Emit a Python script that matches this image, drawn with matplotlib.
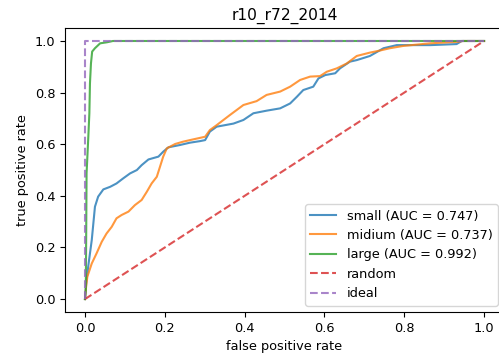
import matplotlib
matplotlib.use('Agg')
import matplotlib.pyplot as plt

plt.rcParams['font.size'] = 9.3

# ROC points
small_fpr = [0.0, 0.003, 0.008, 0.017, 0.025, 0.033, 0.046, 0.063, 0.079, 0.096, 0.113,
             0.130, 0.142, 0.159, 0.184, 0.196, 0.209, 0.238, 0.263, 0.288, 0.301, 0.313,
             0.330, 0.372, 0.397, 0.422, 0.455, 0.489, 0.514, 0.531, 0.547, 0.572, 0.585,
             0.602, 0.627, 0.639, 0.664, 0.681, 0.714, 0.748, 0.781, 0.823, 0.865, 0.931,
             0.944, 1.0]
small_tpr = [0.0, 0.06, 0.125, 0.229, 0.358, 0.397, 0.425, 0.435, 0.448, 0.468, 0.487,
             0.500, 0.519, 0.541, 0.552, 0.571, 0.588, 0.597, 0.606, 0.612, 0.616, 0.649,
             0.668, 0.680, 0.694, 0.720, 0.730, 0.739, 0.758, 0.784, 0.810, 0.823, 0.855,
             0.868, 0.875, 0.894, 0.920, 0.926, 0.942, 0.972, 0.984, 0.984, 0.984, 0.988,
             1.0, 1.0]

midium_fpr = [0.0, 0.003, 0.006, 0.017, 0.029, 0.042, 0.054, 0.067, 0.079, 0.092, 0.109,
              0.125, 0.142, 0.155, 0.167, 0.180, 0.188, 0.196, 0.205, 0.226, 0.246, 0.263,
              0.301, 0.313, 0.330, 0.363, 0.397, 0.430, 0.455, 0.489, 0.514, 0.539, 0.564,
              0.589, 0.606, 0.631, 0.656, 0.681, 0.714, 0.739, 0.764, 0.798, 0.865, 0.936,
              0.947, 1.0]
midium_tpr = [0.0, 0.05, 0.087, 0.138, 0.177, 0.222, 0.254, 0.280, 0.313, 0.326, 0.339,
              0.364, 0.384, 0.416, 0.448, 0.474, 0.513, 0.552, 0.584, 0.601, 0.610, 0.616,
              0.629, 0.655, 0.674, 0.713, 0.752, 0.767, 0.791, 0.804, 0.823, 0.849, 0.862,
              0.864, 0.881, 0.894, 0.913, 0.942, 0.955, 0.963, 0.972, 0.981, 0.991, 0.997,
              1.0, 1.0]

large_fpr = [0.0, 0.002, 0.003, 0.004, 0.008, 0.011, 0.0125, 0.015, 0.018, 0.025, 0.038,
             0.055, 0.070, 1.0]
large_tpr = [0.0, 0.035, 0.24, 0.487, 0.616, 0.72, 0.836, 0.913, 0.959, 0.972, 0.991,
             0.995, 1.0, 1.0]

labels = ['small (AUC = 0.747)', 'midium (AUC = 0.737)', 'large (AUC = 0.992)']

fig = plt.figure(figsize=(4.99, 3.56), dpi=100)
ax = fig.add_axes([0.1303, 0.1236, 0.8798, 0.7975])

ax.plot(small_fpr, small_tpr, color='C0', alpha=0.8, label=labels[0])
ax.plot(midium_fpr, midium_tpr, color='C1', alpha=0.8, label=labels[1])
ax.plot(large_fpr, large_tpr, color='C2', alpha=0.8, label=labels[2])
ax.plot([0, 1], [0, 1], '--', color='C3', alpha=0.8, label='random')
ax.plot([0, 0, 1], [0, 1, 1], '--', color='C4', alpha=0.8, label='ideal')

ax.set_xlim(-0.05, 1.05)
ax.set_ylim(-0.05, 1.05)
ax.set_xlabel('false positive rate')
ax.set_ylabel('true positive rate')
ax.set_title('r10_r72_2014')
ax.legend(loc='lower right')

fig.savefig('out.png', dpi=100)
